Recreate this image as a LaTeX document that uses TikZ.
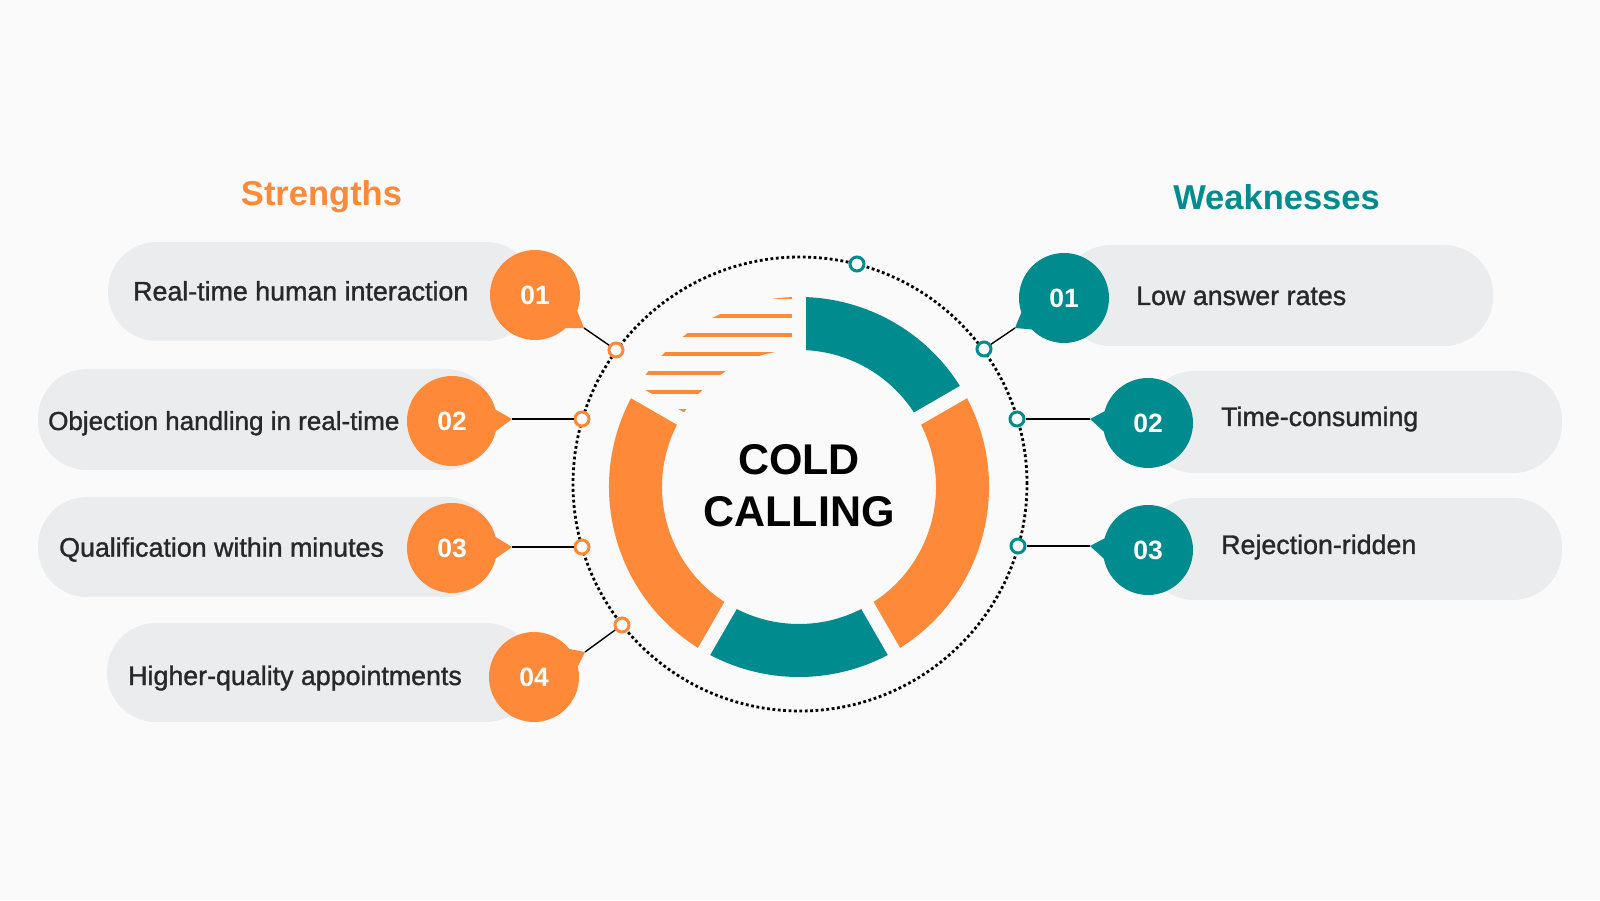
\documentclass[tikz,border=0pt]{standalone}
\usepackage{fontspec}
\setmainfont{Liberation Sans}
\newfontfamily\medfont[FakeBold=1.2]{Liberation Sans}
\usetikzlibrary{calc}
\definecolor{bgc}{RGB}{250,250,251}
\definecolor{orng}{RGB}{253,137,57}
\definecolor{tealc}{RGB}{0,140,142}
\definecolor{pillc}{RGB}{235,236,238}
\definecolor{txt}{RGB}{40,40,44}
\newcommand{\ringseg}[3]{\fill[#1] ($(C)+(#2:190)$) arc[start angle=#2, end angle=#3, radius=190] -- ($(C)+(#3:137)$) arc[start angle=#3, end angle=#2, radius=137] -- cycle;}
\begin{document}
\begin{tikzpicture}[x=1pt,y=1pt,
  pill/.style={rectangle, rounded corners=49pt, fill=pillc, inner sep=0pt},
  numc/.style={circle, minimum size=90pt, inner sep=0pt, text=white, font=\fontsize{26.5}{26.5}\selectfont\bfseries},
  dotc/.style={circle, minimum size=14pt, inner sep=0pt, line width=3pt, fill=white},
  lbl/.style={anchor=base west, text=txt, font=\medfont\fontsize{26.8}{30}\selectfont, inner sep=0pt},
  conn/.style={line width=1.4pt, black},
  title/.style={anchor=base, inner sep=0pt, font=\bfseries\fontsize{34.5}{34.5}\selectfont}]
\fill[bgc] (0,0) rectangle (1600,900);
\useasboundingbox (0,0) rectangle (1600,900);
\coordinate (C) at (799,413);
\coordinate (D) at (800,416);

% titles
\node[title, text=orng] (tS) at (321.5,694) {Strengths};
\node[title, text=tealc] (tW) at (1276.5,690) {Weaknesses};

% pills
\node[pill, minimum width=427pt, minimum height=99pt] (pS1) at (321.5,608.5) {};
\node[pill, minimum width=457pt, minimum height=101pt] (pS2) at (266.5,480.5) {};
\node[pill, minimum width=457pt, minimum height=100pt] (pS3) at (266.5,353) {};
\node[pill, minimum width=428pt, minimum height=99pt] (pS4) at (321,227.5) {};
\node[pill, minimum width=431pt, minimum height=101pt] (pW1) at (1277.5,604.5) {};
\node[pill, minimum width=417pt, minimum height=102pt] (pW2) at (1353.5,478) {};
\node[pill, minimum width=417pt, minimum height=102pt] (pW3) at (1353.5,351) {};

% labels
\node[lbl] (lS1) at (133,599.5) {Real-time human interaction};
\node[lbl, font=\medfont\fontsize{26}{30}\selectfont] (lS2) at (48,470) {Objection handling in real-time};
\node[lbl] (lS3) at (59,343.3) {Qualification within minutes};
\node[lbl] (lS4) at (128,215) {Higher-quality appointments};
\node[lbl] (lW1) at (1136,595) {Low answer rates};
\node[lbl] (lW2) at (1221,474) {Time-consuming};
\node[lbl] (lW3) at (1221,346) {Rejection-ridden};

% tail tips
\coordinate (tS1) at (584,572);
\coordinate (tS2) at (512,481);
\coordinate (tS3) at (512,353);
\coordinate (tS4) at (585,248);
\coordinate (tW1) at (1015,572);
\coordinate (tW2) at (1090,481);
\coordinate (tW3) at (1090,354);

% number circles
\node[numc, fill=orng] (cS1) at (535,605) {01};
\node[numc, fill=orng] (cS2) at (452,479) {02};
\node[numc, fill=orng] (cS3) at (452,352) {03};
\node[numc, fill=orng] (cS4) at (534,223) {04};
\node[numc, fill=tealc] (cW1) at (1064,602) {01};
\node[numc, fill=tealc] (cW2) at (1148,477) {02};
\node[numc, fill=tealc] (cW3) at (1148,350) {03};

% tails
\fill[orng] ($(cS1)+(-12:40)$) -- (tS1) -- ($(cS1)+(-56:40)$) -- cycle;
\fill[orng] ($(cS2)+(22:40)$) -- (tS2) -- ($(cS2)+(-22:40)$) -- cycle;
\fill[orng] ($(cS3)+(22:40)$) -- (tS3) -- ($(cS3)+(-22:40)$) -- cycle;
\fill[orng] ($(cS4)+(48:40)$) -- (tS4) -- ($(cS4)+(4:40)$) -- cycle;
\fill[tealc] ($(cW1)+(189.5:40)$) -- (tW1) -- ($(cW1)+(233.5:40)$) -- cycle;
\fill[tealc] ($(cW2)+(158:40)$) -- (tW2) -- ($(cW2)+(202:40)$) -- cycle;
\fill[tealc] ($(cW3)+(158:40)$) -- (tW3) -- ($(cW3)+(202:40)$) -- cycle;

% ring
\ringseg{tealc}{30}{90}
\ringseg{orng}{-60}{30}
\ringseg{tealc}{-120}{-60}
\ringseg{orng}{150}{240}
\begin{scope}
  \clip ($(C)+(90:190)$) arc[start angle=90, end angle=150, radius=190] -- ($(C)+(150:137)$) arc[start angle=150, end angle=90, radius=137] -- cycle;
  \foreach \yy in {603,584,565,546,527,508,489}
    \draw[orng, line width=3.5pt] (590,\yy) -- (810,\yy);
\end{scope}
\foreach \a in {90,30,-60,-120,150}
  \draw[bgc, line width=14pt] ($(C)+(\a:128)$) -- ($(C)+(\a:200)$);

% center text
\node[anchor=base, inner sep=0pt, font=\bfseries\fontsize{43}{43}\selectfont] (cold) at (799,425) {COLD};
\node[anchor=base, inner sep=0pt, font=\bfseries\fontsize{43}{43}\selectfont] (calling) at (799,373) {CALLING};

% dotted circle
\draw[line width=2.8pt, dash pattern=on 2.8pt off 2.6pt] (D) circle[radius=227];

% small circles
\node[dotc, draw=tealc] (sTop) at (857,636) {};
\node[dotc, draw=orng] (sS1) at (616,550) {};
\node[dotc, draw=orng] (sS2) at (582,481) {};
\node[dotc, draw=orng] (sS3) at (582,353) {};
\node[dotc, draw=orng] (sS4) at (622,275) {};
\node[dotc, draw=tealc] (sW1) at (984,551) {};
\node[dotc, draw=tealc] (sW2) at (1017,481) {};
\node[dotc, draw=tealc] (sW3) at (1018,354) {};

% connectors
\draw[conn] (tS1) -- (sS1);
\draw[conn] (tS2) -- (sS2);
\draw[conn] (tS3) -- (sS3);
\draw[conn] (tS4) -- (sS4);
\draw[conn] (tW1) -- (sW1);
\draw[conn] (tW2) -- (sW2);
\draw[conn] (tW3) -- (sW3);
\end{tikzpicture}
\end{document}
